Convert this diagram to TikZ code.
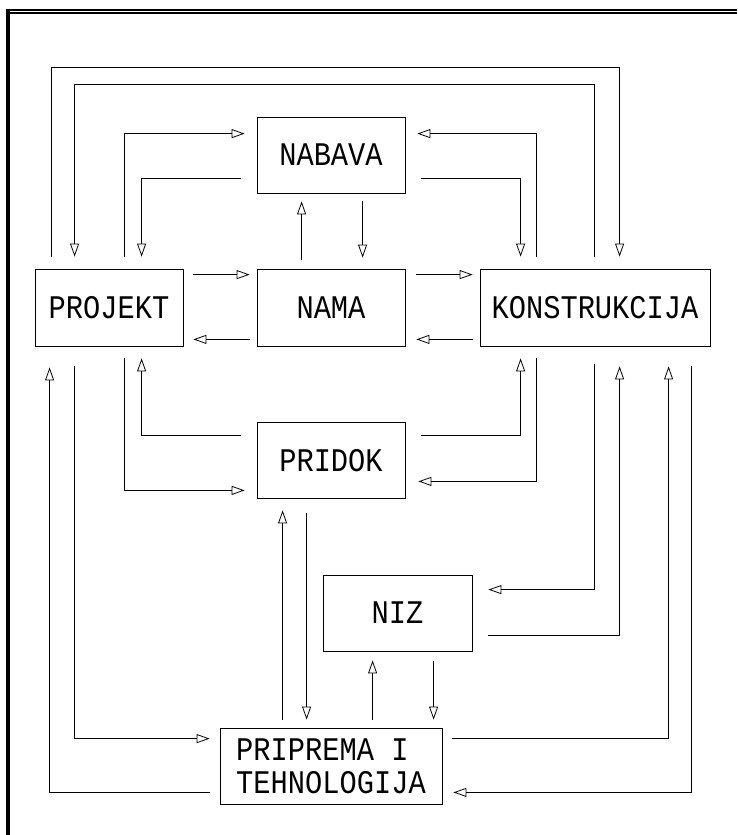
\documentclass[tikz,border=0pt]{standalone}
\usepackage{fontspec}
\newfontfamily\labfont{Liberation Mono}[FakeStretch=0.87]
\usetikzlibrary{arrows.meta}
\begin{document}
\begin{tikzpicture}[x=1pt,y=-1pt,
  box/.style={draw, line width=0.8pt, rectangle, inner sep=0pt, align=left,
    font=\labfont\fontsize{33}{33}\selectfont},
  conn/.style={line width=0.8pt, -{Triangle[open,length=13pt,width=9pt]},
    shorten <=12pt, shorten >=12pt}]
\useasboundingbox (0,0) rectangle (737,835);
% frame
\fill (5.5,8.5) rectangle (737,11.3);
\fill (9,12.2) rectangle (737,13.6);
\fill (5.5,8.5) rectangle (9.5,835);
% boxes
\node[box,minimum width=148pt,minimum height=76pt] (NB) at (331,155) {NABAVA};
\node[box,minimum width=148pt,minimum height=77pt] (P) at (109,307.5) {PROJEKT};
\node[box,minimum width=148pt,minimum height=77pt] (NM) at (331,307.5) {NAMA};
\node[box,minimum width=230pt,minimum height=77pt] (K) at (595,307.5) {KONSTRUKCIJA};
\node[box,minimum width=148pt,minimum height=76pt] (PD) at (331,460.5) {PRIDOK};
\node[box,minimum width=149pt,minimum height=76pt] (NZ) at (397.5,613) {NIZ};
\node[box,minimum width=222pt,minimum height=76pt] (PP) at (331,766) {PRIPREMA I\\TEHNOLOGIJA};
% connectors
\draw[conn] ([xshift=17pt]P.north west) -- ++(0,-201) -| ([xshift=140pt]K.north west);
\draw[conn] ([xshift=115pt]K.north west) -- ++(0,-184) -| ([xshift=40pt]P.north west);
\draw[conn] ([xshift=90pt]P.north west) |- ([yshift=-17pt]NB.north west);
\draw[conn, shorten <=16pt] ([yshift=-62pt]NB.north west) -| ([xshift=107pt]P.north west);
\draw[conn] ([xshift=57pt]K.north west) |- ([yshift=-17pt]NB.north east);
\draw[conn, shorten <=16pt] ([yshift=-62pt]NB.north east) -| ([xshift=41pt]K.north west);
\draw[conn, shorten <=9pt, shorten >=8pt] ([xshift=45pt]NM.north west) -- ([xshift=45pt]NB.south west);
\draw[conn, shorten <=8pt, shorten >=11pt] ([xshift=106pt]NB.south west) -- ([xshift=106pt]NM.north west);
\draw[conn, shorten <=10pt, shorten >=7pt] ([yshift=-6pt]P.north east) -- ([yshift=-6pt]NM.north west);
\draw[conn, shorten <=7pt, shorten >=10pt] ([yshift=7pt]NM.south west) -- ([yshift=7pt]P.south east);
\draw[conn, shorten <=11pt, shorten >=7pt] ([yshift=-6pt]NM.north east) -- ([yshift=-6pt]K.north west);
\draw[conn, shorten <=7pt, shorten >=11pt] ([yshift=7pt]K.south west) -- ([yshift=7pt]NM.south east);
\draw[conn, shorten <=16pt] ([yshift=-13.5pt]PD.north west) -| ([xshift=107pt]P.south west);
\draw[conn] ([xshift=90pt]P.south west) |- ([yshift=8.5pt]PD.south west);
\draw[conn, shorten <=16pt] ([yshift=-13.5pt]PD.north east) -| ([xshift=41pt]K.south west);
\draw[conn, shorten >=13pt] ([xshift=57pt]K.south west) |- ([yshift=17.5pt]PD.south east);
\draw[conn, shorten <=10pt, shorten >=21pt] ([yshift=12pt]PP.south west) -| ([xshift=15pt]P.south west);
\draw[conn, shorten <=20pt, shorten >=10pt] ([xshift=40pt]P.south west) |- ([yshift=-11pt]PP.north west);
\draw[conn, shorten <=8pt, shorten >=11.5pt] ([xshift=63pt]PP.north west) -- ([xshift=26pt]PD.south west);
\draw[conn, shorten <=14pt, shorten >=8pt] ([xshift=50pt]PD.south west) -- ([xshift=87pt]PP.north west);
\draw[conn, shorten <=8pt, shorten >=9pt] ([xshift=153pt]PP.north west) -- ([xshift=50pt]NZ.south west);
\draw[conn, shorten <=10pt, shorten >=8pt] ([xshift=111pt]NZ.south west) -- ([xshift=214pt]PP.north west);
\draw[conn, shorten <=18pt, shorten >=16pt] ([xshift=115pt]K.south west) |- ([yshift=-15pt]NZ.north east);
\draw[conn, shorten <=16pt, shorten >=20pt] ([yshift=16pt]NZ.south east) -| ([xshift=140pt]K.south west);
\draw[conn, shorten <=10pt, shorten >=20pt] ([yshift=-11pt]PP.north east) -| ([xshift=189pt]K.south west);
\draw[conn, shorten <=20pt, shorten >=11pt] ([xshift=212pt]K.south west) |- ([yshift=12pt]PP.south east);
\end{tikzpicture}
\end{document}
